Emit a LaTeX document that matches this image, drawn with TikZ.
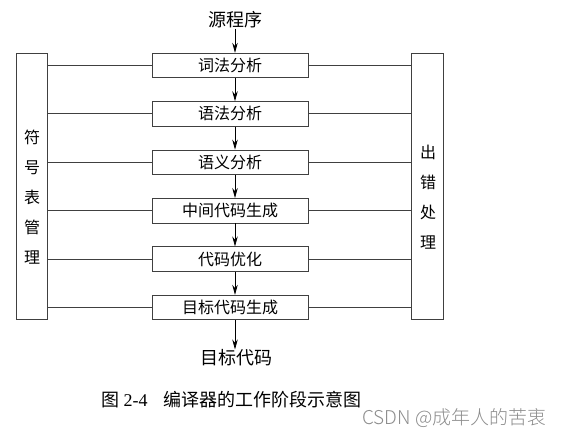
\documentclass[tikz,border=0pt]{standalone}
\usepackage{fontspec}
\setmainfont{Liberation Serif}
\newfontfamily\cjk{Noto Sans CJK SC}
\newfontfamily\cjklight{Noto Sans CJK SC Light}
\usetikzlibrary{arrows.meta,calc}
\begin{document}
\begin{tikzpicture}[x=1pt,y=-1pt,
  line/.style={draw=black!75,line width=0.8pt},
  stagebox/.style={line,minimum width=156pt,minimum height=24.5pt,inner sep=0pt,font=\cjk\fontsize{16}{16}\selectfont},
  sidebox/.style={line,minimum width=31.5pt,minimum height=266pt,inner sep=0pt},
  sidetext/.style={font=\cjk\fontsize{16}{30}\selectfont,align=center,inner sep=0pt},
  io/.style={font=\cjk\fontsize{18}{18}\selectfont,inner sep=0pt},
  arr/.style={draw=black,line width=0.8pt,-{Stealth[length=10pt,width=5.5pt]}}]
\useasboundingbox (0,0) rectangle (569,438);
\node[sidebox] (L) at (32,186.5) {};
\node[sidebox] (R) at (427.5,186.5) {};
\node[sidetext] at (32,197) {符\\号\\表\\管\\理};
\node[sidetext] at (428,197) {出\\错\\处\\理};
\foreach \i/\t in {1/词法分析,2/语法分析,3/语义分析,4/中间代码生成,5/代码优化,6/目标代码生成}{
  \node[stagebox] (b\i) at (230,{65.5+48.4*(\i-1)}) {\t};
  \draw[line] (b\i.west) -- (b\i.west -| L.east);
  \draw[line] (b\i.east) -- (b\i.east -| R.west);
}
\node[io] (src) at (235,20) {源程序};
\node[io] (dst) at (236,358) {目标代码};
\draw[arr] (src.south) -- (b1.north -| src);
\foreach \i/\j in {1/2,2/3,3/4,4/5,5/6}{
  \draw[arr] (b\i.south -| src) -- (b\j.north -| src);
}
\draw[arr] (b6.south -| src) -- (dst.north -| src);
\node[anchor=west,inner sep=0pt,font=\fontsize{18}{18}\selectfont] (capa) at (101,400) {{\cjk 图} 2-4};
\node[anchor=west,inner sep=0pt,font=\cjk\fontsize{18}{18}\selectfont] (capb) at (163,400) {编译器的工作阶段示意图};
\node[anchor=west,inner sep=0pt,text=black!45,font=\cjklight\fontsize{19}{19}\selectfont] (wm) at (362,418) {CSDN @成年人的苦衷};
\end{tikzpicture}
\end{document}
